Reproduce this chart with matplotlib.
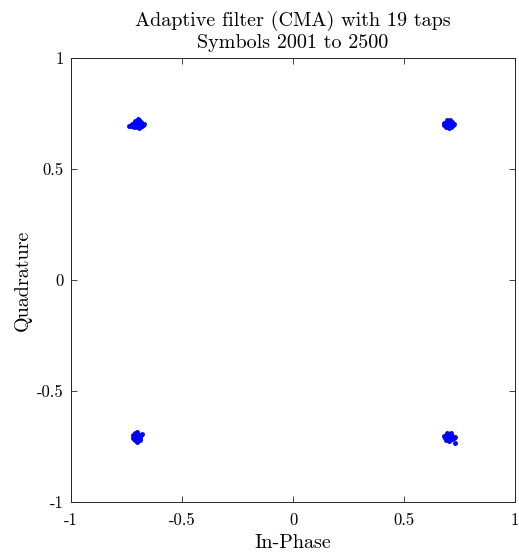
import numpy as np
import matplotlib
matplotlib.use("Agg")
import matplotlib.pyplot as plt

plt.rcParams['font.family'] = ['cmr10', 'DejaVu Serif']
plt.rcParams['mathtext.fontset'] = 'cm'
plt.rcParams['axes.unicode_minus'] = False

# equalised QPSK symbols, one pair of lists per quadrant
tl_i = [-0.705, -0.698, -0.712, -0.690, -0.717, -0.700, -0.694, -0.708, -0.720, -0.729,
        -0.737, -0.683, -0.676, -0.688, -0.702, -0.714, -0.695, -0.682, -0.711, -0.697,
        -0.724, -0.686, -0.673, -0.706, -0.692]
tl_q = [0.703, 0.708, 0.699, 0.700, 0.706, 0.716, 0.722, 0.714, 0.697, 0.695,
        0.693, 0.704, 0.697, 0.690, 0.690, 0.688, 0.686, 0.694, 0.718, 0.727,
        0.703, 0.713, 0.703, 0.695, 0.695]

tr_i = [0.703, 0.695, 0.711, 0.690, 0.716, 0.700, 0.708, 0.684, 0.721, 0.697,
        0.709, 0.714, 0.688, 0.679, 0.693, 0.717, 0.702, 0.690, 0.724, 0.681,
        0.706, 0.712, 0.698, 0.706]
tr_q = [0.703, 0.709, 0.698, 0.700, 0.707, 0.716, 0.714, 0.705, 0.700, 0.692,
        0.690, 0.694, 0.694, 0.709, 0.719, 0.713, 0.686, 0.688, 0.705, 0.698,
        0.721, 0.687, 0.697, 0.707]

bl_i = [-0.705, -0.699, -0.711, -0.702, -0.708, -0.715, -0.696, -0.710, -0.700, -0.719,
        -0.692, -0.686, -0.678, -0.704, -0.713, -0.720, -0.690, -0.706, -0.697, -0.714,
        -0.688, -0.701]
bl_q = [-0.707, -0.700, -0.712, -0.690, -0.695, -0.703, -0.716, -0.722, -0.725, -0.713,
        -0.706, -0.698, -0.692, -0.683, -0.689, -0.700, -0.720, -0.716, -0.708, -0.718,
        -0.712, -0.731]

br_i = [0.705, 0.698, 0.712, 0.694, 0.716, 0.703, 0.710, 0.690, 0.720, 0.699,
        0.708, 0.715, 0.686, 0.681, 0.695, 0.723, 0.688, 0.702, 0.728, 0.713,
        0.731, 0.697, 0.708]
br_q = [-0.707, -0.700, -0.712, -0.709, -0.701, -0.693, -0.696, -0.698, -0.708, -0.718,
        -0.721, -0.716, -0.712, -0.703, -0.688, -0.713, -0.722, -0.726, -0.705, -0.690,
        -0.735, -0.710, -0.704]

ticks = [-1, -0.5, 0, 0.5, 1]
tick_labels = ['-1', '-0.5', '0', '0.5', '1']

fig = plt.figure(figsize=(5.19, 5.52), dpi=100)
ax = fig.add_axes([0.1368, 0.0906, 0.8555, 0.8043])

sym_i = tl_i + tr_i + bl_i + br_i
sym_q = tl_q + tr_q + bl_q + br_q
ax.plot(sym_i, sym_q, '.', color=(0, 0, 1), markersize=5, linestyle='none')

ax.set_xlim(-1, 1)
ax.set_ylim(-1, 1)
ax.set_xticks(ticks)
ax.set_xticklabels(tick_labels)
ax.set_yticks(ticks)
ax.set_yticklabels(tick_labels)
ax.tick_params(direction='in', length=4, width=0.6, top=True, right=True,
               labelsize=12, colors='0.15', labelcolor='black', pad=5)
ax.tick_params(axis='x', pad=8)
for s in ax.spines.values():
    s.set_color('0.15')
    s.set_linewidth(0.7)

ax.set_xlabel('In-Phase', fontsize=14.5, labelpad=4)
ax.set_ylabel('Quadrature', fontsize=14.5, labelpad=4)
ax.set_title('Adaptive filter (CMA) with 19 taps\nSymbols 2001 to 2500',
             fontsize=14.5, linespacing=1.2, pad=7)

fig.savefig('out.png', dpi=100)
